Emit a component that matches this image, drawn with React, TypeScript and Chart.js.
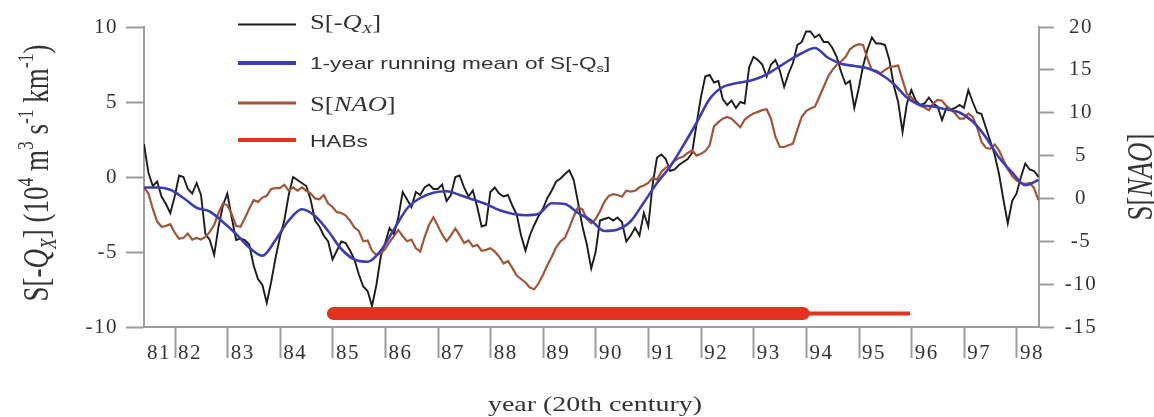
import React, { useEffect, useRef } from 'react';
import { Chart, registerables } from 'chart.js';

Chart.register(...registerables);

// ---------------- data ----------------
const START_YEAR = 1981.41; // first monthly sample (left edge of the plot)

// S[-Qx], monthly values (left axis)
const qxMonthly = [
  2.2, 0.3, -0.6, -0.3, -1.3, -1.8, -2.4, -1.3, 0.1, 0.0,
  -0.8, -1.1, -0.4, -1.2, -3.8, -4.2, -5.2, -3.3, -1.9, -1.1,
  -2.7, -4.2, -4.1, -4.2, -4.5, -5.9, -6.8, -7.2, -8.4, -7.0,
  -5.4, -4.0, -2.9, -1.2, 0.0, -0.2, -0.4, -0.6, -1.5, -2.9,
  -3.3, -3.9, -4.3, -5.5, -4.9, -4.3, -4.4, -4.9, -5.5, -6.5,
  -7.3, -7.6, -8.6, -7.2, -5.3, -4.4, -3.4, -3.8, -2.7, -1.0,
  -1.5, -2.0, -1.0, -1.2, -0.7, -0.5, -0.8, -0.8, -0.5, -1.6,
  -1.2, 0.0, 0.1, -0.7, -1.3, -0.9, -2.0, -3.3, -3.2, -1.0,
  -0.7, -1.1, -1.3, -1.2, -1.9, -2.5, -3.9, -4.9, -3.9, -3.2,
  -2.6, -2.1, -1.4, -0.9, -0.3, -0.1, 0.2, 0.45, -0.2, -1.7,
  -3.3, -4.5, -6.1, -5.0, -2.9, -2.8, -2.7, -2.9, -2.7, -3.0,
  -4.3, -3.9, -3.4, -3.9, -2.4, -3.3, -0.5, 1.3, 1.5, 1.2,
  0.4, 0.5, 0.8, 1.0, 1.2, 1.6, 3.5, 5.3, 6.7, 6.8,
  6.3, 6.4, 5.2, 4.8, 5.1, 4.6, 5.0, 4.9, 7.3, 8.0,
  7.8, 7.5, 6.7, 7.5, 7.8, 7.1, 6.0, 6.9, 7.6, 8.8,
  9.0, 9.7, 9.7, 9.3, 9.5, 9.0, 9.0, 8.6, 8.0, 7.0,
  6.2, 6.4, 4.6, 5.9, 7.4, 8.5, 9.3, 8.9, 8.9, 8.8,
  7.8, 6.1, 5.0, 3.0, 4.9, 5.8, 5.1, 4.8, 4.9, 5.3,
  4.9, 4.7, 3.8, 4.6, 4.5, 4.6, 4.8, 4.6, 5.8, 5.0,
  4.3, 4.2, 3.3, 2.4, 1.5, 0.2, -1.5, -3.1, -1.6, -1.1,
  0.0, 0.9, 0.5, 0.4, 0.0,
];

// S[NAO], monthly values (right axis)
const naoMonthly = [
  1.3, 0.6, -1.2, -2.7, -3.3, -3.2, -3.0, -4.0, -4.7, -4.6,
  -4.1, -4.8, -4.6, -4.8, -4.5, -3.9, -3.1, -1.7, -0.6, -0.8,
  -1.8, -3.2, -3.3, -2.3, -1.2, -0.2, -0.4, 0.1, 0.3, 1.1,
  1.2, 1.2, 1.6, 0.9, 1.3, 0.9, 1.3, 0.9, 0.6, 0.0,
  -0.1, 0.4, -0.6, -1.0, -1.6, -1.7, -2.0, -2.6, -3.4, -3.8,
  -5.0, -4.9, -6.1, -6.6, -6.4, -5.9, -5.1, -4.4, -3.7, -4.4,
  -5.0, -4.8, -5.8, -6.2, -4.5, -3.1, -2.2, -3.2, -4.2, -5.0,
  -4.3, -3.5, -4.3, -5.2, -4.9, -5.6, -5.4, -6.1, -6.0, -5.8,
  -6.2, -6.8, -7.6, -7.3, -8.1, -9.0, -9.4, -9.8, -10.4, -10.6,
  -9.9, -8.9, -7.8, -6.8, -5.7, -5.0, -4.6, -3.4, -2.1, -1.0,
  -1.3, -2.4, -2.9, -2.4, -1.5, -0.4, 0.3, 0.5, 0.4, 0.2,
  0.9, 0.8, 0.9, 1.3, 1.5, 1.8, 2.4, 2.2, 3.1, 3.6,
  3.8, 4.4, 4.7, 4.9, 5.3, 5.6, 5.0, 5.2, 5.5, 6.2,
  8.4, 8.9, 9.3, 9.5, 9.3, 8.8, 8.3, 9.2, 9.6, 9.9,
  10.1, 10.3, 10.4, 9.3, 7.2, 6.0, 6.0, 6.2, 6.4, 8.0,
  9.5, 10.2, 10.5, 10.7, 11.8, 13.0, 14.2, 15.0, 15.6, 16.0,
  16.5, 17.4, 17.8, 18.0, 17.9, 16.3, 15.0, 14.9, 14.6, 15.0,
  15.3, 15.4, 15.5, 13.8, 12.2, 11.8, 11.2, 10.8, 10.6, 10.3,
  11.1, 11.5, 11.4, 10.8, 10.4, 9.9, 9.3, 9.3, 9.9, 9.5,
  8.3, 6.6, 5.9, 5.8, 6.3, 5.6, 4.5, 3.4, 2.6, 2.1,
  1.8, 1.7, 1.8, 1.2, -0.2,
];

// 1-year running mean of S[-Qs], one value every 3 months (left axis)
const qxMeanQuarterly = [
  -0.7, -0.7, -0.85, -1.4, -2.05, -2.3, -3.0, -3.8, -4.7, -5.25,
  -4.2, -2.9, -2.15, -2.6, -3.6, -4.8, -5.5, -5.65, -4.9, -3.5,
  -2.1, -1.4, -1.05, -0.95, -1.2, -1.5, -1.8, -2.2, -2.45, -2.55,
  -2.45, -1.75, -1.8, -2.4, -2.9, -3.6, -3.5, -2.95, -1.7, -0.4,
  0.7, 2.1, 3.6, 5.2, 6.0, 6.25, 6.4, 6.7, 7.2, 7.75,
  8.25, 8.6, 7.95, 7.55, 7.4, 7.25, 6.85, 6.2, 5.3, 4.8,
  4.7, 4.5, 4.3, 3.7, 2.65, 1.3, 0.3, -0.55, -0.2,
];

// HABs period (years) drawn as a bar at a fixed level of the left axis
const habMainYears = [1985.01, 1993.94];
const habTailYears = [1993.9, 1995.97];
const habLevel = [-9.1];

// x axis
const X_MIN = 1981.41;
const X_MAX = 1998.42;
const xTickValues = [
  1981.41, 1982, 1983, 1984, 1985, 1986, 1987, 1988, 1989,
  1990, 1991, 1992, 1993, 1994, 1995, 1996, 1997, 1998,
];
const xTickLabels = [
  '81', '82', '83', '84', '85', '86', '87', '88', '89',
  '90', '91', '92', '93', '94', '95', '96', '97', '98',
];

// ---------------- styles ----------------
const SERIF = '"Liberation Serif", "Times New Roman", serif';
const SANS = '"Liberation Sans", Arial, sans-serif';
const TEXT = '#333333';
const AXIS = '#9c9c9c';
const C_QX = '#1c1c1c';
const C_MEAN = '#3d3dab';
const C_NAO = '#a0563a';
const C_HAB = '#e3321f';
const SX = 1.33; // horizontal stretch of the reference lettering

type Seg = { t: string; it?: boolean; sub?: boolean; sup?: boolean };

function segFont(s: Seg, family: string, size: number) {
  const sz = s.sub || s.sup ? size * 0.65 : size;
  return `${s.it ? 'italic ' : ''}${sz}px ${family}`;
}
function measureRich(ctx: CanvasRenderingContext2D, segs: Seg[], family: string, size: number) {
  let w = 0;
  for (const s of segs) {
    ctx.font = segFont(s, family, size);
    w += ctx.measureText(s.t).width;
  }
  return w;
}
function drawRich(ctx: CanvasRenderingContext2D, segs: Seg[], family: string, size: number, x0: number, y0: number) {
  let x = x0;
  for (const s of segs) {
    ctx.font = segFont(s, family, size);
    const dy = s.sub ? size * 0.22 : s.sup ? -size * 0.4 : 0;
    ctx.fillText(s.t, x, y0 + dy);
    x += ctx.measureText(s.t).width;
  }
}
function drawHorizontal(ctx: CanvasRenderingContext2D, segs: Seg[], family: string, size: number, x: number, baseline: number, center = false) {
  ctx.save();
  ctx.translate(x, baseline);
  ctx.scale(SX, 1);
  const w = center ? measureRich(ctx, segs, family, size) : 0;
  drawRich(ctx, segs, family, size, center ? -w / 2 : 0, 0);
  ctx.restore();
}
function drawVertical(ctx: CanvasRenderingContext2D, segs: Seg[], family: string, size: number, cx: number, cy: number) {
  ctx.save();
  ctx.translate(cx, cy);
  ctx.rotate(-Math.PI / 2);
  ctx.scale(1, SX);
  const w = measureRich(ctx, segs, family, size);
  drawRich(ctx, segs, family, size, -w / 2, size * 0.33);
  ctx.restore();
}

const titleLeft: Seg[] = [
  { t: 'S[-' }, { t: 'Q', it: true }, { t: 'X', it: true, sub: true }, { t: '] (10' },
  { t: '4', sup: true }, { t: ' m' }, { t: '3', sup: true }, { t: ' s' }, { t: '-1', sup: true },
  { t: ' km' }, { t: '-1', sup: true }, { t: ')' },
];
const titleRight: Seg[] = [{ t: 'S[' }, { t: 'NAO', it: true }, { t: ']' }];
const titleX: Seg[] = [{ t: 'year (20th century)' }];

const legendItems: { segs: Seg[]; family: string; size: number; color: string; width: number; y: number; base: number }[] = [
  { segs: [{ t: 'S[-' }, { t: 'Q', it: true }, { t: 'X', it: true, sub: true }, { t: ']' }], family: SERIF, size: 20, color: C_QX, width: 2, y: 24.5, base: 28.5 },
  { segs: [{ t: '1-year running mean of S[-Q' }, { t: 's', sub: true }, { t: ']' }], family: SANS, size: 17, color: C_MEAN, width: 4, y: 63, base: 68.5 },
  { segs: [{ t: 'S[' }, { t: 'NAO', it: true }, { t: ']' }], family: SERIF, size: 20, color: C_NAO, width: 3, y: 103, base: 111 },
  { segs: [{ t: 'HABs' }], family: SANS, size: 17, color: C_HAB, width: 4, y: 140, base: 146.5 },
];

const decorPlugin = {
  id: 'decor',
  beforeDraw(chart: any) {
    (chart.ctx as any).letterSpacing = '1.5px';
  },
  beforeDatasetsDraw(chart: any) {
    (chart.ctx as any).letterSpacing = '0px';
  },
  afterDraw(chart: any) {
    const ctx: CanvasRenderingContext2D = chart.ctx;
    (ctx as any).letterSpacing = '0px';
    ctx.save();
    ctx.fillStyle = TEXT;
    ctx.textAlign = 'left';
    ctx.textBaseline = 'alphabetic';
    // axis titles
    drawVertical(ctx, titleLeft, SERIF, 27, 36, 173);
    drawVertical(ctx, titleRight, SERIF, 27, 1140, 177);
    drawHorizontal(ctx, titleX, SERIF, 21, 595, 411, true);
    // legend
    for (const it of legendItems) {
      ctx.strokeStyle = it.color;
      ctx.lineWidth = it.width;
      ctx.lineCap = 'butt';
      ctx.beginPath();
      ctx.moveTo(238, it.y);
      ctx.lineTo(296, it.y);
      ctx.stroke();
      ctx.fillStyle = TEXT;
      drawHorizontal(ctx, it.segs, it.family, it.size, 310, it.base);
    }
    ctx.restore();
  },
};

export default function App() {
  const ref = useRef<HTMLCanvasElement | null>(null);

  useEffect(() => {
    const canvas = ref.current;
    if (!canvas) return;

    const monthly = (vals: number[]) => vals.map((v, i) => ({ x: START_YEAR + i / 12, y: v }));
    const quarterly = (vals: number[]) => vals.map((v, i) => ({ x: START_YEAR + (i * 3) / 12, y: v }));
    const span = (years: number[]) => years.map((x) => ({ x, y: habLevel[0] }));

    const tickFont = { family: SERIF, size: 21, lineHeight: 1 };

    const chart = new Chart(canvas, {
      type: 'line',
      data: {
        datasets: [
          {
            label: 'HABs',
            data: span(habMainYears),
            borderColor: C_HAB,
            borderWidth: 13,
            borderCapStyle: 'round',
            pointRadius: 0,
            yAxisID: 'y',
            order: 0,
          },
          {
            label: 'HABs (end)',
            data: span(habTailYears),
            borderColor: C_HAB,
            borderWidth: 4,
            borderCapStyle: 'butt',
            pointRadius: 0,
            yAxisID: 'y',
            order: 0,
          },
          {
            label: '1-year running mean of S[-Qs]',
            data: quarterly(qxMeanQuarterly),
            borderColor: C_MEAN,
            borderWidth: 2.6,
            cubicInterpolationMode: 'monotone',
            pointRadius: 0,
            yAxisID: 'y',
            order: 1,
          },
          {
            label: 'S[NAO]',
            data: monthly(naoMonthly),
            borderColor: C_NAO,
            borderWidth: 2.2,
            tension: 0,
            pointRadius: 0,
            yAxisID: 'y2',
            order: 2,
          },
          {
            label: 'S[-Qx]',
            data: monthly(qxMonthly),
            borderColor: C_QX,
            borderWidth: 1.9,
            tension: 0,
            pointRadius: 0,
            yAxisID: 'y',
            order: 3,
          },
        ],
      },
      options: {
        responsive: false,
        animation: false,
        events: [],
        layout: { padding: { top: 27, left: 0, right: 0, bottom: 0 } },
        plugins: {
          legend: { display: false },
          tooltip: { enabled: false },
          title: { display: false },
        },
        scales: {
          x: {
            type: 'linear',
            position: 'bottom',
            min: X_MIN,
            max: X_MAX,
            afterBuildTicks: (s: any) => {
              s.ticks = xTickValues.map((value) => ({ value }));
            },
            afterFit: (s: any) => {
              s.height = 90;
            },
            grid: {
              display: true,
              drawOnChartArea: false,
              drawTicks: true,
              tickLength: 31,
              tickWidth: 2,
              tickColor: (c: any) => (c.index === 0 ? 'rgba(0,0,0,0)' : AXIS),
            },
            border: { display: true, color: AXIS, width: 2 },
            ticks: {
              autoSkip: false,
              maxRotation: 0,
              minRotation: 0,
              padding: -15,
              labelOffset: 15,
              color: TEXT,
              font: tickFont,
              callback: (_v: any, i: number) => xTickLabels[i],
            },
          },
          y: {
            position: 'left',
            min: -10,
            max: 10,
            afterFit: (s: any) => {
              s.width = 144;
            },
            grid: {
              display: true,
              drawOnChartArea: false,
              drawTicks: true,
              tickLength: 18,
              tickWidth: 2,
              tickColor: AXIS,
            },
            border: { display: true, color: AXIS, width: 2 },
            ticks: { stepSize: 5, padding: 8, color: TEXT, font: tickFont },
          },
          y2: {
            position: 'right',
            min: -15,
            max: 20,
            afterFit: (s: any) => {
              s.width = 115;
            },
            grid: {
              display: true,
              drawOnChartArea: false,
              drawTicks: true,
              tickLength: 15,
              tickWidth: 2,
              tickColor: AXIS,
            },
            border: { display: true, color: AXIS, width: 2 },
            ticks: { stepSize: 5, padding: 13, crossAlign: 'center', color: TEXT, font: tickFont },
          },
        },
      },
      plugins: [decorPlugin],
    } as any);

    return () => chart.destroy();
  }, []);

  return (
    <div style={{ position: 'absolute', left: 0, top: 0, width: 1154, height: 417, background: '#ffffff' }}>
      <canvas ref={ref} width={1154} height={417} style={{ display: 'block', width: 1154, height: 417 }} />
    </div>
  );
}
